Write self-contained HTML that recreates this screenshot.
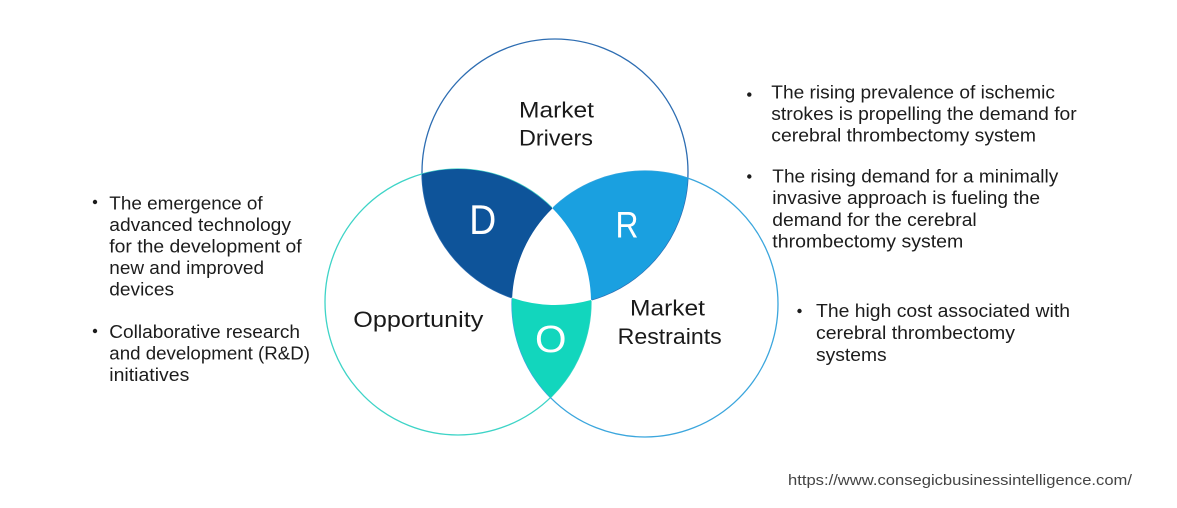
<!DOCTYPE html>
<html>
<head>
<meta charset="utf-8">
<style>
  html,body{margin:0;padding:0;background:#ffffff;}
  body{width:1177px;height:508px;overflow:hidden;}
  svg{display:block;}
  .t{font-family:"Liberation Sans",Arial,sans-serif;font-size:18px;fill:#1c1c1c;}
  .h{font-family:"Liberation Sans",Arial,sans-serif;font-size:22px;fill:#1a1a1a;}
  .L{font-family:"Liberation Sans",Arial,sans-serif;fill:#ffffff;}
</style>
</head>
<body>
<svg width="1177" height="508" viewBox="0 0 1177 508" xmlns="http://www.w3.org/2000/svg">
  <rect width="1177" height="508" fill="#ffffff"/>

  <!-- circle outlines (beneath fills) -->
  <circle cx="555" cy="172" r="133" fill="none" stroke="#2d6db2" stroke-width="1.3"/>
  <circle cx="458" cy="302" r="133" fill="none" stroke="#3ed4c7" stroke-width="1.3"/>
  <circle cx="645" cy="304" r="133" fill="none" stroke="#3ba6dd" stroke-width="1.3"/>

  <!-- center white region to hide inner outlines -->
  <path d="M552.5,208.4 A133,133 0 0 1 590.99,300.04 A133,133 0 0 1 512.14,297.9 A133,133 0 0 1 552.5,208.4 Z" fill="#ffffff" stroke="#ffffff" stroke-width="1.6"/>

  <!-- D region: top ∩ left \ right -->
  <path d="M422.01,173.96 A133,133 0 0 1 552.5,208.4 A133,133 0 0 0 512.14,297.9 A133,133 0 0 1 422.01,173.96 Z" fill="#0e549a"/>
  <!-- R region: top ∩ right \ left -->
  <path d="M552.5,208.4 A133,133 0 0 1 687.86,178.1 A133,133 0 0 1 590.99,300.04 A133,133 0 0 0 552.5,208.4 Z" fill="#1aa0e0"/>
  <!-- O region: left ∩ right \ top -->
  <path d="M512.14,297.9 A133,133 0 0 0 590.99,300.04 A133,133 0 0 1 550.5,397.6 A133,133 0 0 1 512.14,297.9 Z" fill="#12d6bd"/>

  <!-- circle labels -->
  <text class="h" x="519" y="117.3" textLength="75" lengthAdjust="spacingAndGlyphs">Market</text>
  <text class="h" x="519" y="145.7" textLength="74" lengthAdjust="spacingAndGlyphs">Drivers</text>
  <text class="h" x="353.3" y="327" textLength="130" lengthAdjust="spacingAndGlyphs">Opportunity</text>
  <text class="h" x="630" y="315.7" textLength="75" lengthAdjust="spacingAndGlyphs">Market</text>
  <text class="h" x="617.7" y="344" textLength="104" lengthAdjust="spacingAndGlyphs">Restraints</text>

  <!-- big letters -->
  <text class="L" x="469.3" y="234" font-size="42" textLength="27" lengthAdjust="spacingAndGlyphs">D</text>
  <text class="L" x="615.5" y="237.5" font-size="37" textLength="23" lengthAdjust="spacingAndGlyphs">R</text>
  <text class="L" x="535" y="352" font-size="38" textLength="31.5" lengthAdjust="spacingAndGlyphs">O</text>

  <!-- left bullets -->
  <circle cx="95" cy="202" r="2.2" fill="#1c1c1c"/>
  <text class="t" x="109.3" y="209.3" textLength="153.4" lengthAdjust="spacingAndGlyphs">The emergence of</text>
  <text class="t" x="109.3" y="230.8" textLength="181.7" lengthAdjust="spacingAndGlyphs">advanced technology</text>
  <text class="t" x="109.3" y="252.3" textLength="192.4" lengthAdjust="spacingAndGlyphs">for the development of</text>
  <text class="t" x="109.3" y="273.8" textLength="154.7" lengthAdjust="spacingAndGlyphs">new and improved</text>
  <text class="t" x="109.3" y="295.3" textLength="64.7" lengthAdjust="spacingAndGlyphs">devices</text>

  <circle cx="95" cy="331" r="2.2" fill="#1c1c1c"/>
  <text class="t" x="109.3" y="338" textLength="190.7" lengthAdjust="spacingAndGlyphs">Collaborative research</text>
  <text class="t" x="109.3" y="359.5" textLength="200.7" lengthAdjust="spacingAndGlyphs">and development (R&amp;D)</text>
  <text class="t" x="109.3" y="381" textLength="80" lengthAdjust="spacingAndGlyphs">initiatives</text>

  <!-- right bullets -->
  <circle cx="749.3" cy="94.6" r="2.2" fill="#1c1c1c"/>
  <text class="t" x="771.3" y="98.3" textLength="283.7" lengthAdjust="spacingAndGlyphs">The rising prevalence of ischemic</text>
  <text class="t" x="771.3" y="120" textLength="305.4" lengthAdjust="spacingAndGlyphs">strokes is propelling the demand for</text>
  <text class="t" x="771.3" y="141.7" textLength="264.7" lengthAdjust="spacingAndGlyphs">cerebral thrombectomy system</text>

  <circle cx="749.3" cy="176.5" r="2.2" fill="#1c1c1c"/>
  <text class="t" x="772.3" y="182.5" textLength="286" lengthAdjust="spacingAndGlyphs">The rising demand for a minimally</text>
  <text class="t" x="772.3" y="204.2" textLength="267.7" lengthAdjust="spacingAndGlyphs">invasive approach is fueling the</text>
  <text class="t" x="772.3" y="225.9" textLength="204.4" lengthAdjust="spacingAndGlyphs">demand for the cerebral</text>
  <text class="t" x="772.3" y="247.6" textLength="191" lengthAdjust="spacingAndGlyphs">thrombectomy system</text>

  <circle cx="799.5" cy="311" r="2.2" fill="#1c1c1c"/>
  <text class="t" x="816" y="317" textLength="254" lengthAdjust="spacingAndGlyphs">The high cost associated with</text>
  <text class="t" x="816" y="339" textLength="199" lengthAdjust="spacingAndGlyphs">cerebral thrombectomy</text>
  <text class="t" x="816" y="361" textLength="70.7" lengthAdjust="spacingAndGlyphs">systems</text>

  <!-- url -->
  <text x="788" y="485" font-family="Liberation Sans, Arial, sans-serif" font-size="15" fill="#444444" textLength="344" lengthAdjust="spacingAndGlyphs">https://www.consegicbusinessintelligence.com/</text>
</svg>
</body>
</html>
